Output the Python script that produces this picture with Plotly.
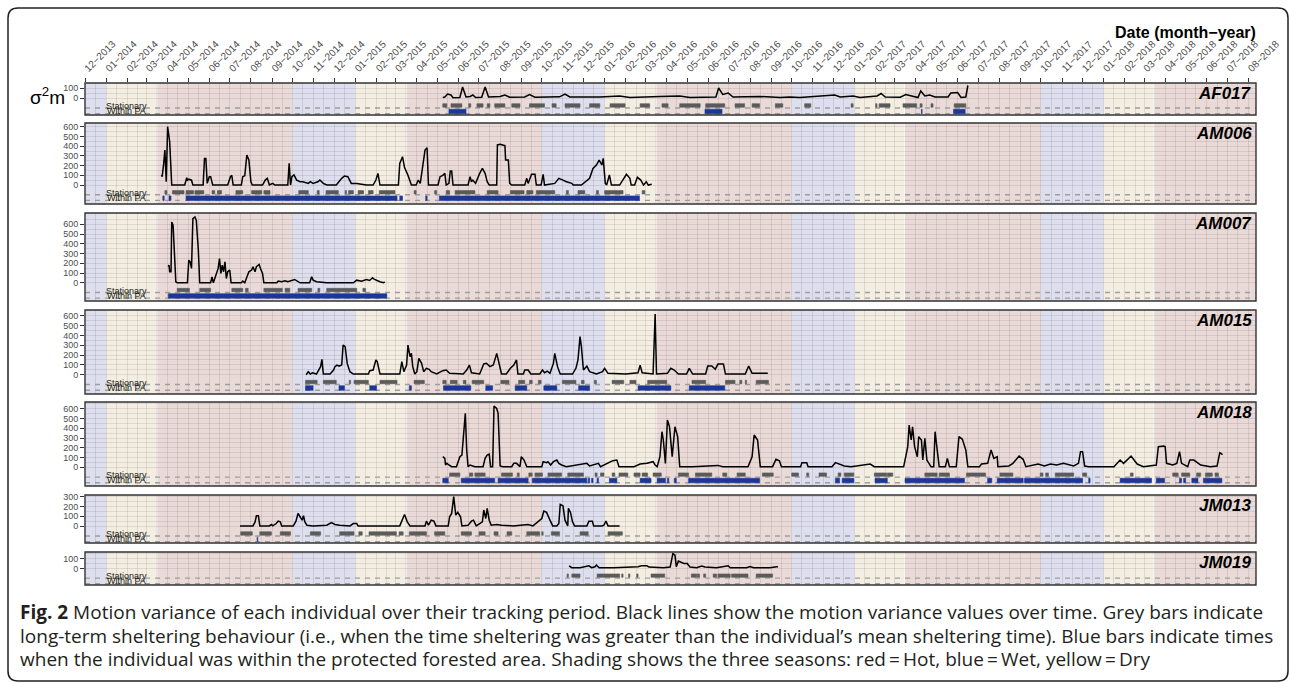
import plotly.graph_objects as go
import pandas as pd

# ------------------------------------------------------------------ data
INDIVIDUALS = ["AF017", "AM006", "AM007", "AM015", "AM018", "JM013", "JM019"]

AF017_SERIES = [("2015-05-09", 5), ("2015-05-12", 10), ("2015-05-16", 40), ("2015-05-21", 30), ("2015-05-24", 2),
                ("2015-06-03", 5), ("2015-06-07", 110), ("2015-06-12", 10), ("2015-06-18", 15), ("2015-06-22", 30),
                ("2015-06-26", 5), ("2015-07-05", 8), ("2015-07-10", 110), ("2015-07-15", 10), ("2015-08-01", 15),
                ("2015-08-08", 30), ("2015-08-15", 8), ("2015-09-06", 10), ("2015-09-13", 35), ("2015-09-21", 8),
                ("2015-10-27", 12), ("2015-11-04", 40), ("2015-11-11", 10), ("2015-12-25", 10), ("2016-01-23", 20),
                ("2016-02-07", 5), ("2016-03-22", 15), ("2016-04-20", 20), ("2016-05-05", 5), ("2016-06-12", 10),
                ("2016-06-16", 100), ("2016-06-22", 35), ("2016-06-30", 50), ("2016-07-07", 10), ("2016-08-15", 15),
                ("2016-09-14", 5), ("2016-09-28", 10), ("2016-10-13", 5), ("2016-12-03", 30), ("2016-12-11", 10),
                ("2016-12-30", 20), ("2017-01-09", 5), ("2017-02-03", 20), ("2017-02-09", 45), ("2017-02-15", 10),
                ("2017-03-09", 8), ("2017-03-17", 35), ("2017-03-26", 20), ("2017-04-04", 5), ("2017-04-08", 70),
                ("2017-04-14", 20), ("2017-04-21", 30), ("2017-04-29", 10), ("2017-05-18", 10), ("2017-05-22", 50),
                ("2017-06-01", 55), ("2017-06-06", 5), ("2017-06-13", 10), ("2017-06-16", 125)]
AF017_STATIONARY = [("2015-05-09", "2015-05-15"), ("2015-05-21", "2015-06-06"), ("2015-06-16", "2015-06-19"),
                    ("2015-06-28", "2015-07-07"), ("2015-07-13", "2015-07-17"), ("2015-07-24", "2015-08-08"),
                    ("2015-08-18", "2015-08-30"), ("2015-09-13", "2015-10-05"), ("2015-10-16", "2015-10-22"),
                    ("2015-11-04", "2015-11-26"), ("2015-12-10", "2015-12-25"), ("2016-01-09", "2016-01-31"),
                    ("2016-02-22", "2016-03-07"), ("2016-03-25", "2016-04-03"), ("2016-04-20", "2016-05-20"),
                    ("2016-05-28", "2016-06-25"), ("2016-07-10", "2016-07-24"), ("2016-08-04", "2016-08-15"),
                    ("2016-09-07", "2016-09-18"), ("2016-10-20", "2016-10-29"), ("2016-12-27", "2016-12-30"),
                    ("2017-02-01", "2017-02-03"), ("2017-02-06", "2017-02-22"), ("2017-03-13", "2017-04-02"),
                    ("2017-04-07", "2017-04-10"), ("2017-04-23", "2017-04-26"), ("2017-05-27", "2017-06-13")]
AF017_WITHIN_PA = [("2015-05-18", "2015-06-12"), ("2016-05-27", "2016-06-21"), ("2017-04-09", "2017-04-10"),
                   ("2017-05-26", "2017-06-12")]

AM006_SERIES = [("2014-03-23", 103), ("2014-03-24", 86), ("2014-03-26", 206), ("2014-03-28", 360), ("2014-03-30", 34),
                ("2014-04-01", 600), ("2014-04-04", 446), ("2014-04-06", 206), ("2014-04-07", 0), ("2014-04-26", 0),
                ("2014-04-29", 75), ("2014-04-30", 50), ("2014-05-02", 60), ("2014-05-06", 50), ("2014-05-08", 0),
                ("2014-05-23", 0), ("2014-05-25", 274), ("2014-05-27", 274), ("2014-05-29", 17), ("2014-06-01", 86),
                ("2014-06-03", 86), ("2014-06-06", 0), ("2014-06-28", 0), ("2014-07-02", 86), ("2014-07-04", 100),
                ("2014-07-06", 0), ("2014-07-18", 0), ("2014-07-20", 86), ("2014-07-23", 96), ("2014-07-26", 309),
                ("2014-07-29", 257), ("2014-08-01", 34), ("2014-08-03", 0), ("2014-08-18", 0), ("2014-08-22", 51),
                ("2014-08-25", 69), ("2014-08-28", 0), ("2014-09-02", 17), ("2014-09-05", 0), ("2014-09-24", 0),
                ("2014-09-26", 223), ("2014-09-28", 0), ("2014-09-30", 86), ("2014-10-03", 103), ("2014-10-07", 50),
                ("2014-10-12", 34), ("2014-10-16", 34), ("2014-10-24", 17), ("2014-10-27", 34), ("2014-10-31", 17),
                ("2014-11-07", 34), ("2014-11-10", 51), ("2014-11-15", 17), ("2014-11-20", 0), ("2014-12-04", 0),
                ("2014-12-12", 69), ("2014-12-16", 93), ("2014-12-21", 86), ("2014-12-26", 17), ("2015-01-03", 17),
                ("2015-01-10", 7), ("2015-01-17", 0), ("2015-01-27", 0), ("2015-01-31", 51), ("2015-02-03", 120),
                ("2015-02-06", 0), ("2015-03-05", 0), ("2015-03-07", 223), ("2015-03-11", 291), ("2015-03-14", 180),
                ("2015-03-19", 100), ("2015-03-24", 0), ("2015-03-31", 0), ("2015-04-03", 51), ("2015-04-06", 17),
                ("2015-04-10", 240), ("2015-04-13", 360), ("2015-04-16", 384), ("2015-04-18", 0), ("2015-05-02", 0),
                ("2015-05-05", 86), ("2015-05-09", 100), ("2015-05-12", 120), ("2015-05-14", 0), ("2015-05-18", 17),
                ("2015-05-20", 144), ("2015-05-22", 144), ("2015-05-24", 0), ("2015-06-15", 0), ("2015-06-18", 86),
                ("2015-06-20", 34), ("2015-06-22", 51), ("2015-06-26", 17), ("2015-07-02", 120), ("2015-07-06", 171),
                ("2015-07-10", 120), ("2015-07-13", 34), ("2015-07-16", 0), ("2015-07-27", 0), ("2015-07-28", 412),
                ("2015-08-01", 418), ("2015-08-08", 405), ("2015-08-09", 257), ("2015-08-13", 257), ("2015-08-15", 17),
                ("2015-08-18", 0), ("2015-09-06", 0), ("2015-09-09", 69), ("2015-09-11", 17), ("2015-09-16", 110),
                ("2015-09-21", 110), ("2015-09-23", 0), ("2015-09-30", 0), ("2015-10-03", 110), ("2015-10-05", 0),
                ("2015-10-20", 17), ("2015-10-26", 69), ("2015-11-01", 51), ("2015-11-06", 34), ("2015-11-14", 17),
                ("2015-11-16", 0), ("2015-11-28", 0), ("2015-12-06", 51), ("2015-12-10", 69), ("2015-12-15", 171),
                ("2015-12-20", 206), ("2015-12-24", 257), ("2015-12-28", 206), ("2015-12-30", 274), ("2016-01-02", 17),
                ("2016-01-04", 0), ("2016-01-08", 103), ("2016-01-11", 0), ("2016-01-23", 0), ("2016-02-02", 110),
                ("2016-02-07", 69), ("2016-02-09", 0), ("2016-02-14", 0), ("2016-02-18", 79), ("2016-02-23", 51),
                ("2016-02-27", 0), ("2016-03-02", 34), ("2016-03-05", 0), ("2016-03-10", 7)]
AM006_STATIONARY = [("2014-03-28", "2014-03-31"), ("2014-04-08", "2014-04-25"), ("2014-04-28", "2014-05-09"),
                    ("2014-05-11", "2014-05-24"), ("2014-06-05", "2014-06-09"), ("2014-06-13", "2014-06-19"),
                    ("2014-07-10", "2014-07-20"), ("2014-08-02", "2014-08-17"), ("2014-08-20", "2014-08-29"),
                    ("2014-10-10", "2014-10-24"), ("2014-11-06", "2014-11-09"), ("2014-11-19", "2014-12-07"),
                    ("2014-12-17", "2014-12-19"), ("2014-12-22", "2014-12-29"), ("2015-01-05", "2015-01-13"),
                    ("2015-01-20", "2015-01-27"), ("2015-02-05", "2015-02-28"), ("2015-03-28", "2015-03-31"),
                    ("2015-04-27", "2015-04-30"), ("2015-05-14", "2015-05-19"), ("2015-05-27", "2015-06-25"),
                    ("2015-07-13", "2015-07-29"), ("2015-08-16", "2015-09-05"), ("2015-09-09", "2015-09-18"),
                    ("2015-09-23", "2015-10-20"), ("2015-11-06", "2015-11-09"), ("2015-11-23", "2015-12-03"),
                    ("2015-12-20", "2015-12-23"), ("2016-01-01", "2016-01-28"), ("2016-02-25", "2016-02-29")]
AM006_WITHIN_PA = [("2014-03-25", "2014-03-27"), ("2014-04-03", "2014-04-06"), ("2014-04-28", "2015-03-03"),
                   ("2015-03-07", "2015-03-11"), ("2015-04-14", "2015-04-16"), ("2015-05-04", "2016-02-21")]

AM007_SERIES = [("2014-04-02", 164), ("2014-04-03", 181), ("2014-04-04", 113), ("2014-04-06", 113), ("2014-04-07", 624),
                ("2014-04-09", 590), ("2014-04-11", 300), ("2014-04-13", 10), ("2014-04-15", 0), ("2014-04-30", 0),
                ("2014-05-02", 232), ("2014-05-04", 215), ("2014-05-06", 147), ("2014-05-08", 658), ("2014-05-11", 675),
                ("2014-05-13", 641), ("2014-05-16", 334), ("2014-05-18", 0), ("2014-06-03", 0), ("2014-06-05", 61),
                ("2014-06-07", 0), ("2014-06-14", 147), ("2014-06-16", 249), ("2014-06-18", 96), ("2014-06-20", 181),
                ("2014-06-22", 113), ("2014-06-24", 215), ("2014-06-26", 44), ("2014-06-28", 113), ("2014-07-01", 130),
                ("2014-07-03", 0), ("2014-07-18", 0), ("2014-07-20", 17), ("2014-07-23", 0), ("2014-07-29", 113),
                ("2014-08-02", 130), ("2014-08-04", 164), ("2014-08-07", 113), ("2014-08-09", 164), ("2014-08-13", 188),
                ("2014-08-15", 147), ("2014-08-18", 96), ("2014-08-20", 0), ("2014-09-08", 0), ("2014-09-10", 17),
                ("2014-09-15", 10), ("2014-09-20", 20), ("2014-09-24", 10), ("2014-10-04", 34), ("2014-10-08", 17),
                ("2014-10-12", 0), ("2014-10-26", 0), ("2014-10-29", 61), ("2014-10-31", 27), ("2014-11-05", 10),
                ("2014-11-20", 0), ("2014-12-29", 0), ("2015-01-03", 27), ("2015-01-10", 17), ("2015-01-17", 34),
                ("2015-01-22", 24), ("2015-01-26", 51), ("2015-01-29", 34), ("2015-02-06", 10), ("2015-02-11", 0),
                ("2015-02-13", 10)]
AM007_STATIONARY = [("2014-04-15", "2014-05-03"), ("2014-05-18", "2014-06-03"), ("2014-07-04", "2014-07-20"),
                    ("2014-07-24", "2014-07-28"), ("2014-08-20", "2014-09-16"), ("2014-09-20", "2014-09-27"),
                    ("2014-10-09", "2014-10-29"), ("2014-11-07", "2014-11-10"), ("2014-11-20", "2015-01-03"),
                    ("2015-01-12", "2015-01-16")]
AM007_WITHIN_PA = [("2014-04-02", "2015-02-16")]

AM015_SERIES = [("2014-10-21", 0), ("2014-10-24", 31), ("2014-10-27", 7), ("2014-10-30", 20), ("2014-11-05", 7),
                ("2014-11-07", 31), ("2014-11-11", 82), ("2014-11-13", 156), ("2014-11-15", 7), ("2014-11-25", 7),
                ("2014-11-30", 48), ("2014-12-02", 82), ("2014-12-05", 98), ("2014-12-08", 88), ("2014-12-12", 98),
                ("2014-12-14", 302), ("2014-12-17", 285), ("2014-12-20", 115), ("2014-12-24", 31), ("2014-12-29", 7),
                ("2015-01-20", 7), ("2015-01-22", 41), ("2015-01-27", 48), ("2015-01-31", 150), ("2015-02-02", 133),
                ("2015-02-06", 7), ("2015-03-07", 7), ("2015-03-10", 133), ("2015-03-13", 31), ("2015-03-17", 99),
                ("2015-03-19", 302), ("2015-03-22", 184), ("2015-03-24", 217), ("2015-03-26", 82), ("2015-03-29", 7),
                ("2015-04-01", 31), ("2015-04-04", 166), ("2015-04-08", 116), ("2015-04-11", 31), ("2015-04-15", 65),
                ("2015-04-19", 55), ("2015-04-22", 31), ("2015-04-30", 7), ("2015-05-09", 41), ("2015-05-14", 48),
                ("2015-05-19", 14), ("2015-06-08", 7), ("2015-06-13", 48), ("2015-06-17", 98), ("2015-06-20", 20),
                ("2015-07-02", 7), ("2015-07-08", 109), ("2015-07-12", 116), ("2015-07-17", 82), ("2015-07-22", 99),
                ("2015-07-27", 217), ("2015-07-31", 99), ("2015-08-03", 7), ("2015-08-10", 7), ("2015-08-16", 65),
                ("2015-08-21", 99), ("2015-08-25", 150), ("2015-08-27", 7), ("2015-09-04", 7), ("2015-09-06", 48),
                ("2015-09-11", 48), ("2015-09-15", 7), ("2015-09-28", 7), ("2015-10-02", 48), ("2015-10-05", 20),
                ("2015-10-09", 37), ("2015-10-13", 14), ("2015-10-18", 115), ("2015-10-20", 217), ("2015-10-24", 82),
                ("2015-10-28", 7), ("2015-11-15", 7), ("2015-11-20", 65), ("2015-11-23", 150), ("2015-11-26", 387),
                ("2015-11-28", 285), ("2015-12-01", 48), ("2015-12-06", 88), ("2015-12-10", 31), ("2015-12-20", 7),
                ("2015-12-29", 31), ("2016-01-01", 65), ("2016-01-06", 14), ("2016-02-01", 7), ("2016-02-19", 20),
                ("2016-02-22", 98), ("2016-02-25", 20), ("2016-03-12", 7), ("2016-03-15", 617), ("2016-03-17", 7),
                ("2016-04-02", 14), ("2016-04-07", 65), ("2016-04-12", 48), ("2016-04-18", 7), ("2016-04-30", 7),
                ("2016-05-04", 65), ("2016-05-09", 7), ("2016-05-28", 7), ("2016-05-31", 88), ("2016-06-06", 88),
                ("2016-06-11", 55), ("2016-06-15", 108), ("2016-06-23", 108), ("2016-06-26", 7), ("2016-07-25", 7),
                ("2016-07-30", 88), ("2016-08-04", 14), ("2016-08-27", 14)]
AM015_STATIONARY = [("2014-10-20", "2014-11-06"), ("2014-11-15", "2014-12-04"), ("2014-12-23", "2014-12-25"),
                    ("2014-12-30", "2015-01-20"), ("2015-02-06", "2015-03-03"), ("2015-03-28", "2015-04-12"),
                    ("2015-05-09", "2015-05-14"), ("2015-05-20", "2015-05-30"), ("2015-06-08", "2015-06-12"),
                    ("2015-06-21", "2015-07-08"), ("2015-08-02", "2015-08-14"), ("2015-08-28", "2015-09-06"),
                    ("2015-09-13", "2015-09-17"), ("2015-09-26", "2015-09-30"), ("2015-10-31", "2015-11-20"),
                    ("2015-11-28", "2015-12-02"), ("2015-12-17", "2015-12-20"), ("2016-01-12", "2016-01-29"),
                    ("2016-02-07", "2016-02-16"), ("2016-03-04", "2016-04-01"), ("2016-05-08", "2016-05-28"),
                    ("2016-06-26", "2016-07-10"), ("2016-07-17", "2016-07-20"), ("2016-07-25", "2016-07-27"),
                    ("2016-08-10", "2016-08-28")]
AM015_WITHIN_PA = [("2014-10-20", "2014-10-31"), ("2014-12-08", "2014-12-16"), ("2015-01-22", "2015-02-01"),
                   ("2015-03-21", "2015-03-24"), ("2015-05-10", "2015-06-19"), ("2015-07-11", "2015-07-21"),
                   ("2015-08-23", "2015-09-09"), ("2015-10-04", "2015-10-23"), ("2015-11-24", "2015-12-10"),
                   ("2016-02-19", "2016-04-07"), ("2016-05-04", "2016-06-25")]

AM018_SERIES = [("2015-05-09", 109), ("2015-05-12", 92), ("2015-05-13", 24), ("2015-05-15", 41), ("2015-05-18", 24),
                ("2015-05-22", 7), ("2015-05-29", 7), ("2015-06-03", 109), ("2015-06-06", 126), ("2015-06-09", 348),
                ("2015-06-11", 553), ("2015-06-13", 177), ("2015-06-15", 7), ("2015-06-18", 24), ("2015-06-22", 14),
                ("2015-06-25", 7), ("2015-07-07", 7), ("2015-07-10", 92), ("2015-07-13", 126), ("2015-07-16", 136),
                ("2015-07-18", 7), ("2015-07-21", 7), ("2015-07-23", 627), ("2015-07-27", 603), ("2015-07-29", 553),
                ("2015-08-01", 14), ("2015-08-05", 7), ("2015-08-18", 7), ("2015-08-21", 41), ("2015-08-25", 41),
                ("2015-08-30", 7), ("2015-09-01", 109), ("2015-09-05", 75), ("2015-09-09", 7), ("2015-10-01", 7),
                ("2015-10-03", 58), ("2015-10-08", 48), ("2015-10-10", 58), ("2015-10-14", 24), ("2015-10-18", 58),
                ("2015-10-23", 75), ("2015-10-26", 41), ("2015-10-30", 24), ("2015-11-06", 7), ("2015-12-06", 41),
                ("2015-12-10", 14), ("2015-12-23", 41), ("2015-12-26", 7), ("2016-01-13", 68), ("2016-01-19", 75),
                ("2016-01-22", 7), ("2016-02-13", 7), ("2016-02-22", 34), ("2016-03-03", 41), ("2016-03-12", 58),
                ("2016-03-15", 24), ("2016-03-18", 7), ("2016-03-22", 109), ("2016-03-25", 365), ("2016-03-27", 280),
                ("2016-03-30", 41), ("2016-04-02", 484), ("2016-04-05", 416), ("2016-04-09", 109), ("2016-04-13", 416),
                ("2016-04-17", 314), ("2016-04-20", 7), ("2016-05-09", 7), ("2016-06-15", 20), ("2016-06-22", 7),
                ("2016-07-29", 7), ("2016-08-04", 109), ("2016-08-07", 331), ("2016-08-12", 280), ("2016-08-16", 7),
                ("2016-09-03", 7), ("2016-09-08", 82), ("2016-09-13", 68), ("2016-09-16", 7), ("2016-10-14", 7),
                ("2016-10-16", 48), ("2016-10-23", 48), ("2016-10-25", 7), ("2016-11-29", 7), ("2016-12-04", 48),
                ("2016-12-10", 34), ("2016-12-17", 14), ("2016-12-27", 7), ("2017-01-24", 34), ("2017-01-30", 7),
                ("2017-03-14", 7), ("2017-03-17", 109), ("2017-03-20", 212), ("2017-03-22", 432), ("2017-03-25", 280),
                ("2017-03-27", 416), ("2017-03-30", 212), ("2017-04-03", 109), ("2017-04-05", 314), ("2017-04-09", 280),
                ("2017-04-11", 75), ("2017-04-14", 297), ("2017-04-17", 75), ("2017-04-23", 7), ("2017-04-27", 7),
                ("2017-04-29", 365), ("2017-05-02", 212), ("2017-05-05", 7), ("2017-05-14", 7), ("2017-05-17", 92),
                ("2017-05-20", 7), ("2017-05-30", 7), ("2017-06-03", 314), ("2017-06-08", 287), ("2017-06-13", 177),
                ("2017-06-16", 7), ("2017-07-03", 7), ("2017-07-06", 34), ("2017-07-15", 41), ("2017-07-20", 177),
                ("2017-07-24", 92), ("2017-07-29", 109), ("2017-07-30", 7), ("2017-08-15", 14), ("2017-08-21", 41),
                ("2017-08-30", 115), ("2017-09-05", 82), ("2017-09-09", 7), ("2017-09-27", 34), ("2017-10-06", 14),
                ("2017-10-15", 34), ("2017-10-24", 24), ("2017-11-03", 41), ("2017-11-14", 24), ("2017-11-18", 14),
                ("2017-11-25", 41), ("2017-11-28", 160), ("2017-12-01", 160), ("2017-12-04", 14), ("2017-12-10", 7),
                ("2018-01-16", 7), ("2018-01-25", 75), ("2018-01-30", 41), ("2018-02-10", 115), ("2018-02-15", 75),
                ("2018-02-19", 34), ("2018-02-28", 7), ("2018-03-19", 24), ("2018-03-22", 211), ("2018-03-30", 218),
                ("2018-04-01", 211), ("2018-04-03", 41), ("2018-04-12", 24), ("2018-04-18", 41), ("2018-04-22", 160),
                ("2018-04-25", 41), ("2018-05-04", 7), ("2018-05-07", 75), ("2018-05-13", 75), ("2018-05-23", 24),
                ("2018-06-06", 7), ("2018-06-16", 14), ("2018-06-20", 150), ("2018-06-24", 130)]
AM018_STATIONARY = [("2015-05-19", "2015-06-03"), ("2015-06-17", "2015-06-22"), ("2015-06-25", "2015-07-10"),
                    ("2015-08-03", "2015-08-19"), ("2015-08-26", "2015-08-29"), ("2015-09-12", "2015-09-17"),
                    ("2015-09-21", "2015-10-02"), ("2015-10-10", "2015-10-30"), ("2015-11-08", "2015-12-01"),
                    ("2015-12-18", "2015-12-21"), ("2015-12-26", "2015-12-31"), ("2016-01-12", "2016-01-16"),
                    ("2016-01-22", "2016-02-04"), ("2016-02-13", "2016-02-22"), ("2016-02-25", "2016-03-04"),
                    ("2016-03-12", "2016-03-24"), ("2016-04-18", "2016-05-03"), ("2016-05-13", "2016-06-06"),
                    ("2016-06-22", "2016-06-28"), ("2016-07-13", "2016-07-25"), ("2016-08-19", "2016-09-04"),
                    ("2016-10-01", "2016-10-11"), ("2016-10-23", "2016-10-26"), ("2016-11-10", "2016-11-21"),
                    ("2016-12-08", "2016-12-12"), ("2016-12-17", "2016-12-31"), ("2017-01-30", "2017-02-17"),
                    ("2017-02-18", "2017-02-26"), ("2017-04-14", "2017-05-02"), ("2017-05-05", "2017-05-20"),
                    ("2017-06-14", "2017-07-12"), ("2017-08-02", "2017-08-21"), ("2017-09-30", "2017-10-04"),
                    ("2017-10-08", "2017-10-12"), ("2017-10-22", "2017-11-18"), ("2017-12-01", "2017-12-07"),
                    ("2018-02-09", "2018-02-13"), ("2018-04-12", "2018-04-20"), ("2018-04-25", "2018-05-07"),
                    ("2018-05-17", "2018-05-23"), ("2018-05-30", "2018-06-09"), ("2018-06-13", "2018-06-18")]
AM018_WITHIN_PA = [("2015-05-09", "2015-05-17"), ("2015-06-05", "2015-07-24"), ("2015-07-29", "2015-09-11"),
                   ("2015-09-17", "2015-12-06"), ("2015-12-08", "2015-12-10"), ("2015-12-13", "2015-12-15"),
                   ("2015-12-21", "2015-12-23"), ("2016-01-08", "2016-01-19"), ("2016-02-22", "2016-03-09"),
                   ("2016-03-18", "2016-03-30"), ("2016-04-02", "2016-04-04"), ("2016-04-12", "2016-04-15"),
                   ("2016-05-03", "2016-08-15"), ("2016-12-04", "2016-12-10"), ("2016-12-14", "2016-12-31"),
                   ("2017-01-31", "2017-02-18"), ("2017-03-16", "2017-06-11"), ("2017-07-15", "2017-07-21"),
                   ("2017-07-29", "2017-09-05"), ("2017-09-07", "2017-12-01"), ("2017-12-10", "2017-12-12"),
                   ("2018-01-25", "2018-03-12"), ("2018-03-19", "2018-03-31"), ("2018-04-22", "2018-04-25"),
                   ("2018-04-28", "2018-05-01"), ("2018-05-10", "2018-05-19"), ("2018-05-27", "2018-06-23")]

JM013_SERIES = [("2014-07-16", 3), ("2014-08-04", 3), ("2014-08-07", 41), ("2014-08-09", 106), ("2014-08-12", 106),
                ("2014-08-14", 3), ("2014-08-28", 3), ("2014-08-31", 17), ("2014-09-02", 3), ("2014-09-07", 27),
                ("2014-09-10", 51), ("2014-09-13", 44), ("2014-09-15", 3), ("2014-10-02", 3), ("2014-10-06", 51),
                ("2014-10-09", 130), ("2014-10-12", 96), ("2014-10-15", 61), ("2014-10-17", 106), ("2014-10-19", 44),
                ("2014-10-22", 10), ("2014-10-31", 3), ("2014-11-20", 10), ("2014-11-27", 37), ("2014-12-02", 17),
                ("2014-12-09", 10), ("2014-12-24", 3), ("2014-12-29", 27), ("2015-01-03", 27), ("2015-01-05", 3),
                ("2015-03-07", 3), ("2015-03-12", 78), ("2015-03-14", 119), ("2015-03-18", 44), ("2015-03-22", 3),
                ("2015-04-13", 3), ("2015-04-15", 51), ("2015-04-18", 10), ("2015-04-22", 61), ("2015-04-26", 51),
                ("2015-04-29", 3), ("2015-05-17", 3), ("2015-05-19", 96), ("2015-05-22", 130), ("2015-05-25", 300),
                ("2015-05-28", 113), ("2015-05-31", 140), ("2015-06-04", 96), ("2015-06-06", 3), ("2015-06-15", 10),
                ("2015-06-20", 51), ("2015-06-23", 61), ("2015-06-27", 3), ("2015-07-06", 44), ("2015-07-08", 164),
                ("2015-07-11", 78), ("2015-07-13", 181), ("2015-07-16", 61), ("2015-07-19", 10), ("2015-07-27", 17),
                ("2015-08-03", 10), ("2015-08-20", 3), ("2015-09-06", 17), ("2015-09-11", 17), ("2015-09-18", 3),
                ("2015-09-26", 44), ("2015-10-01", 78), ("2015-10-04", 154), ("2015-10-08", 140), ("2015-10-13", 61),
                ("2015-10-17", 3), ("2015-10-23", 3), ("2015-10-26", 27), ("2015-10-28", 222), ("2015-11-01", 208),
                ("2015-11-04", 61), ("2015-11-08", 3), ("2015-11-09", 181), ("2015-11-12", 140), ("2015-11-15", 44),
                ("2015-11-18", 3), ("2015-12-06", 3), ("2015-12-09", 51), ("2015-12-14", 51), ("2015-12-16", 3),
                ("2015-12-28", 3), ("2015-12-31", 10), ("2016-01-03", 51), ("2016-01-06", 3), ("2016-01-23", 3)]
JM013_STATIONARY = [("2014-07-17", "2014-08-03"), ("2014-08-14", "2014-08-31"), ("2014-09-13", "2014-09-28"),
                    ("2014-10-27", "2014-11-11"), ("2014-12-09", "2014-12-30"), ("2015-01-06", "2015-01-11"),
                    ("2015-01-21", "2015-03-02"), ("2015-03-06", "2015-03-12"), ("2015-03-21", "2015-04-15"),
                    ("2015-04-27", "2015-05-12"), ("2015-06-05", "2015-06-20"), ("2015-07-01", "2015-07-10"),
                    ("2015-07-23", "2015-07-29"), ("2015-08-11", "2015-08-18"), ("2015-09-09", "2015-09-28"),
                    ("2015-10-01", "2015-10-03"), ("2015-10-15", "2015-10-27"), ("2015-11-26", "2015-12-08"),
                    ("2016-01-06", "2016-01-27")]
JM013_WITHIN_PA = [("2014-08-10", "2014-08-11")]

JM019_SERIES = [("2015-11-10", 27), ("2015-11-14", 7), ("2015-11-26", 7), ("2015-12-06", 17), ("2015-12-09", 27),
                ("2015-12-13", 7), ("2015-12-18", 17), ("2015-12-20", 34), ("2015-12-24", 7), ("2016-01-14", 7),
                ("2016-02-02", 14), ("2016-02-12", 14), ("2016-02-19", 17), ("2016-02-24", 27), ("2016-03-03", 27),
                ("2016-03-06", 14), ("2016-03-27", 7), ("2016-04-06", 14), ("2016-04-08", 102), ("2016-04-10", 153),
                ("2016-04-13", 136), ("2016-04-15", 17), ("2016-04-18", 75), ("2016-04-22", 61), ("2016-04-26", 51),
                ("2016-05-01", 51), ("2016-05-05", 14), ("2016-05-15", 7), ("2016-05-22", 24), ("2016-05-27", 14),
                ("2016-06-06", 7), ("2016-06-13", 7), ("2016-06-30", 27), ("2016-07-03", 7), ("2016-07-27", 7),
                ("2016-08-01", 20), ("2016-08-06", 7), ("2016-08-30", 7), ("2016-09-09", 17), ("2016-09-11", 17)]
JM019_STATIONARY = [("2015-11-07", "2015-11-09"), ("2015-11-14", "2015-11-26"), ("2015-12-21", "2016-01-23"),
                    ("2016-01-26", "2016-01-28"), ("2016-02-05", "2016-02-07"), ("2016-02-17", "2016-02-19"),
                    ("2016-03-09", "2016-03-29"), ("2016-05-07", "2016-05-15"), ("2016-05-16", "2016-05-19"),
                    ("2016-05-25", "2016-05-28"), ("2016-06-08", "2016-06-13"), ("2016-06-15", "2016-07-03"),
                    ("2016-07-05", "2016-07-29"), ("2016-08-10", "2016-09-03")]
JM019_WITHIN_PA = []

SERIES = [AF017_SERIES, AM006_SERIES, AM007_SERIES, AM015_SERIES, AM018_SERIES, JM013_SERIES, JM019_SERIES]
STATIONARY = [AF017_STATIONARY, AM006_STATIONARY, AM007_STATIONARY, AM015_STATIONARY, AM018_STATIONARY,
              JM013_STATIONARY, JM019_STATIONARY]
WITHIN_PA = [AF017_WITHIN_PA, AM006_WITHIN_PA, AM007_WITHIN_PA, AM015_WITHIN_PA, AM018_WITHIN_PA,
             JM013_WITHIN_PA, JM019_WITHIN_PA]
Y_TICKS = [[0, 100], [0, 100, 200, 300, 400, 500, 600], [0, 100, 200, 300, 400, 500, 600],
           [0, 100, 200, 300, 400, 500, 600], [0, 100, 200, 300, 400, 500, 600], [0, 100, 200, 300], [0, 100]]

SEASON = ["Wet", "Dry", "Hot", "Wet", "Dry", "Hot", "Wet", "Dry", "Hot", "Wet", "Dry", "Hot", "Wet", "Dry", "Hot"]
SEASON_START = ["2013-12-01", "2014-01-01", "2014-03-16", "2014-10-01", "2015-01-01", "2015-03-16", "2015-10-01",
                "2016-01-01", "2016-03-16", "2016-10-01", "2017-01-01", "2017-03-16", "2017-10-01", "2018-01-01",
                "2018-03-16"]
SEASON_END = ["2014-01-01", "2014-03-16", "2014-10-01", "2015-01-01", "2015-03-16", "2015-10-01", "2016-01-01",
              "2016-03-16", "2016-10-01", "2017-01-01", "2017-03-16", "2017-10-01", "2018-01-01", "2018-03-16",
              "2018-08-12"]

TICK_MONTHS = pd.date_range("2013-12-01", "2018-08-01", freq="MS")
TICK_LABELS = [d.strftime("%m") + "\u2212" + d.strftime("%Y") for d in TICK_MONTHS]
MID_MONTHS = [d + pd.Timedelta(days=15) for d in TICK_MONTHS]

CAPTION = [
    "<b>Fig. 2</b> Motion variance of each individual over their tracking period. Black lines show the motion variance values over time. Grey bars indicate",
    "long-term sheltering behaviour (i.e., when the time sheltering was greater than the individual\u2019s mean sheltering time). Blue bars indicate times",
    "when the individual was within the protected forested area. Shading shows the three seasons: red\u2009=\u2009Hot, blue\u2009=\u2009Wet, yellow\u2009=\u2009Dry",
]

# ------------------------------------------------------------------ layout / style
W, H = 1290, 683
PL, PR, PT, PB = 85, 1256, 83, 585
PANEL_PX = [(83, 115), (123, 204), (213, 301), (310, 394), (402, 486), (495, 543), (552, 585)]
Y_RANGE = [[-170, 150], [-195, 638], [-187, 716], [-196, 658], [-191, 669], [-171, 317], [-171, 169]]
X_RANGE = ["2013-12-01", "2018-08-12"]
SEASON_COLOR = {"Hot": "#EADAD7", "Wet": "#DDDEEE", "Dry": "#F3EEE1"}
GRID = "rgba(110,100,100,0.17)"
STAT_Y = (-92, -57)
PA_Y = (-158, -112)
DASH_Y = (-100, -158)
AXFONT = "Liberation Sans, Arial, sans-serif"


def pyp(py):
    return (PB - py) / (PB - PT)


def pxp(px):
    return (px - PL) / (PR - PL)


def rect_path(intervals, y0, y1):
    xs, ys = [], []
    for a, b in intervals:
        xs += [a, b, b, a, a, None]
        ys += [y0, y0, y1, y1, y0, None]
    return xs, ys


fig = go.Figure()
shapes, annotations = [], []
layout = {}

for i, name in enumerate(INDIVIDUALS):
    xa = "x" if i == 0 else f"x{i + 1}"
    ya = "y" if i == 0 else f"y{i + 1}"
    common = dict(xaxis=xa, yaxis=ya, hoverinfo="skip", showlegend=False)

    for yv in DASH_Y:
        fig.add_trace(go.Scatter(x=X_RANGE, y=[yv, yv], mode="lines",
                                 line=dict(color="#9e9e9e", width=1.4, dash="5px,5px"), **common))
    xs, ys = rect_path(STATIONARY[i], *STAT_Y)
    fig.add_trace(go.Scatter(x=xs, y=ys, mode="lines", fill="toself", fillcolor="#5b5b5b",
                             line=dict(color="#5b5b5b", width=0.6), **common))
    if WITHIN_PA[i]:
        xs, ys = rect_path(WITHIN_PA[i], *PA_Y)
        fig.add_trace(go.Scatter(x=xs, y=ys, mode="lines", fill="toself", fillcolor="#1d3798",
                                 line=dict(color="#1d3798", width=0.6), **common))
    d, v = zip(*SERIES[i])
    fig.add_trace(go.Scatter(x=list(d), y=list(v), mode="lines",
                             line=dict(color="black", width=1.5), **common))

    top, bot = PANEL_PX[i]
    yk = "yaxis" if i == 0 else f"yaxis{i + 1}"
    xk = "xaxis" if i == 0 else f"xaxis{i + 1}"
    yminor = [t + 50 for t in range(0, int(Y_RANGE[i][1]), 100) if t + 50 < Y_RANGE[i][1]]
    layout[yk] = dict(domain=[pyp(bot), pyp(top)], range=Y_RANGE[i], anchor=xa,
                      tickmode="array", tickvals=Y_TICKS[i], ticks="outside", ticklen=4,
                      tickcolor="#333333", tickwidth=1,
                      tickfont=dict(size=9, color="#4d4d4d", family=AXFONT),
                      showgrid=True, gridcolor=GRID, gridwidth=1, zeroline=False, showline=False,
                      minor=dict(tickvals=yminor, showgrid=True, gridcolor=GRID, gridwidth=0.7),
                      fixedrange=True)
    xcfg = dict(domain=[0, 1], anchor=ya, type="date", range=X_RANGE,
                tickmode="array", tickvals=list(TICK_MONTHS), ticktext=TICK_LABELS,
                showgrid=True, gridcolor=GRID, gridwidth=1, zeroline=False, showline=False,
                minor=dict(tickvals=MID_MONTHS, showgrid=True, gridcolor=GRID, gridwidth=0.7))
    if i == 0:
        xcfg.update(side="top", ticks="outside", ticklen=4, tickcolor="#333333", tickwidth=1,
                    tickangle=-45, tickfont=dict(size=10, color="#4d4d4d", family=AXFONT))
    else:
        xcfg.update(matches="x", showticklabels=False, ticks="")
    layout[xk] = xcfg

    # season shading
    for s0, s1, sn in zip(SEASON_START, SEASON_END, SEASON):
        shapes.append(dict(type="rect", xref=xa, yref=f"{ya} domain", x0=s0, x1=s1, y0=0, y1=1,
                           fillcolor=SEASON_COLOR[sn], line=dict(width=0), layer="below"))
    for s1, sn in zip(SEASON_END, SEASON):
        if sn == "Dry":
            shapes.append(dict(type="line", xref=xa, yref=f"{ya} domain", x0=s1, x1=s1, y0=0, y1=1,
                               line=dict(color="white", width=1.2), layer="below"))
    shapes.append(dict(type="rect", xref=f"{xa} domain", yref=f"{ya} domain", x0=0, x1=1, y0=0, y1=1,
                       line=dict(color="#333333", width=1.4), fillcolor="rgba(0,0,0,0)", layer="above"))

    annotations.append(dict(text="Stationary", xref=f"{xa} domain", yref=ya, x=pxp(126), y=-80,
                            showarrow=False, font=dict(size=9, color="#1a1a1a", family=AXFONT),
                            xanchor="center", yanchor="middle"))
    annotations.append(dict(text="Within PA", xref=f"{xa} domain", yref=ya, x=pxp(126), y=-132,
                            showarrow=False, font=dict(size=9, color="#1a1a1a", family=AXFONT),
                            xanchor="center", yanchor="middle"))
    annotations.append(dict(text=f"<b><i>{name}</i></b>", xref=f"{xa} domain", yref=f"{ya} domain",
                            x=1, y=1, xanchor="right", yanchor="top", xshift=-2, yshift=1,
                            showarrow=False, font=dict(size=17, color="black", family=AXFONT)))

# axis title, y label
annotations.append(dict(text="<b>Date (month\u2212year)</b>", xref="paper", yref="paper",
                        x=pxp(1258), y=pyp(32), xanchor="right", yanchor="middle", showarrow=False,
                        font=dict(size=16, color="black", family=AXFONT)))
annotations.append(dict(text="\u03c3<sup>2</sup>m", xref="paper", yref="paper",
                        x=pxp(47), y=pyp(96), xanchor="center", yanchor="middle", showarrow=False,
                        font=dict(size=19, color="black", family=AXFONT)))
# caption
for k, line in enumerate(CAPTION):
    annotations.append(dict(text=line, xref="paper", yref="paper", x=pxp(18), y=pyp(612 + 23.5 * k),
                            xanchor="left", yanchor="middle", showarrow=False, align="left",
                            font=dict(size=19, color="#231f20", family="Open Sans, sans-serif")))

# rounded outer frame
X0, X1, Y0, Y1, r = 8, 1288, 8, 681, 10
pts = lambda px, py: f"{pxp(px)},{pyp(py)}"
frame = (f"M {pts(X0 + r, Y0)} L {pts(X1 - r, Y0)} Q {pts(X1, Y0)} {pts(X1, Y0 + r)} "
         f"L {pts(X1, Y1 - r)} Q {pts(X1, Y1)} {pts(X1 - r, Y1)} L {pts(X0 + r, Y1)} "
         f"Q {pts(X0, Y1)} {pts(X0, Y1 - r)} L {pts(X0, Y0 + r)} Q {pts(X0, Y0)} {pts(X0 + r, Y0)} Z")
shapes.append(dict(type="path", xref="paper", yref="paper", path=frame,
                   line=dict(color="#231f20", width=1.5), fillcolor="rgba(0,0,0,0)", layer="above"))

fig.update_layout(width=W, height=H, margin=dict(l=PL, r=W - PR, t=PT, b=H - PB, autoexpand=False),
                  paper_bgcolor="white", plot_bgcolor="white", showlegend=False, hovermode=False,
                  shapes=shapes, annotations=annotations, **layout)
fig.write_html("out.html")
